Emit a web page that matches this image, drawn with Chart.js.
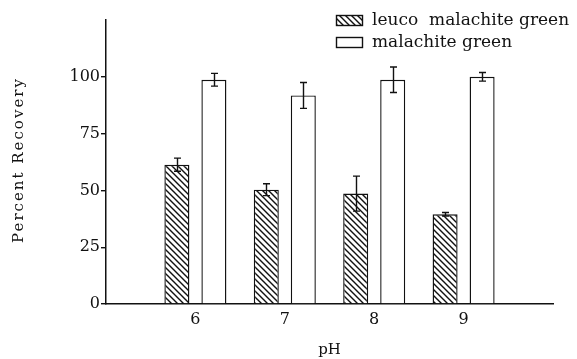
<!DOCTYPE html>
<html>
<head>
<meta charset="utf-8">
<script src="https://cdn.jsdelivr.net/npm/chart.js@4/dist/chart.umd.min.js"></script>
<style>
  html, body { margin: 0; padding: 0; background: #fff; }
  canvas { display: block; }
</style>
</head>
<body>
<canvas id="c" width="577" height="359"></canvas>
<script>
// Recovery of leuco malachite green and malachite green at different pH
const pHValues = [6, 7, 8, 9];
const leucoRecovery = [61.3, 50.3, 48.6, 39.5];
const leucoError = [2.9, 2.6, 7.7, 0.8];
const mgRecovery = [98.7, 91.8, 98.7, 100.0];
const mgError = [2.8, 5.7, 5.6, 1.9];
const yTickValues = [0, 25, 50, 75, 100];
const seriesLabels = ['leuco  malachite green', 'malachite green'];

const INK = '#111';
const FONT = '"DejaVu Serif", "Liberation Serif", serif';

// Diagonal hatch fill ("\\\\") for the leuco bars
function makeHatch() {
  const p = document.createElement('canvas');
  p.width = 6; p.height = 6;
  const g = p.getContext('2d');
  g.fillStyle = '#fff';
  g.fillRect(0, 0, 6, 6);
  g.strokeStyle = INK;
  g.lineWidth = 1.4;
  g.beginPath();
  g.moveTo(-1, -1); g.lineTo(7, 7);
  g.moveTo(-4, 2); g.lineTo(1, 7);
  g.moveTo(5, -1); g.lineTo(8, 2);
  g.stroke();
  return document.createElement('canvas').getContext('2d').createPattern(p, 'repeat');
}
const hatch = makeHatch();

const toPoints = (vals) => vals.map((v, i) => ({ x: pHValues[i], y: v }));

// Error bars with small caps
const errorBars = {
  id: 'errorBars',
  afterDatasetsDraw(chart) {
    const ctx = chart.ctx;
    const y = chart.scales.y;
    ctx.save();
    ctx.strokeStyle = INK;
    ctx.lineWidth = 1.4;
    chart.data.datasets.forEach((ds, di) => {
      const meta = chart.getDatasetMeta(di);
      meta.data.forEach((bar, i) => {
        const v = ds.data[i].y, e = ds.errors[i];
        const yt = y.getPixelForValue(v + e);
        const yb = y.getPixelForValue(v - e);
        const cx = Math.round(bar.x) + 0.5;
        ctx.beginPath();
        ctx.moveTo(cx, yt); ctx.lineTo(cx, yb);
        ctx.moveTo(cx - 3.5, yt); ctx.lineTo(cx + 3.5, yt);
        ctx.moveTo(cx - 3.5, yb); ctx.lineTo(cx + 3.5, yb);
        ctx.stroke();
      });
    });
    ctx.restore();
  }
};

// Legend in the upper right corner plus the two axis titles
const decorations = {
  id: 'decorations',
  afterDraw(chart) {
    const ctx = chart.ctx;
    const area = chart.chartArea;
    ctx.save();
    ctx.fillStyle = INK;
    ctx.textBaseline = 'middle';

    // legend
    const rows = [20, 42];
    chart.data.datasets.forEach((ds, i) => {
      const yc = rows[i];
      ctx.fillStyle = ds.backgroundColor;
      ctx.fillRect(336, yc - 5, 26, 10);
      ctx.strokeStyle = INK;
      ctx.lineWidth = 1.4;
      ctx.strokeRect(336.5, yc - 5 + 0.5, 26, 10);
      ctx.fillStyle = INK;
      ctx.font = '17px ' + FONT;
      ctx.textAlign = 'left';
      ctx.fillText(ds.label, 372, yc + 1);
    });

    // x title
    ctx.font = '15px ' + FONT;
    ctx.textAlign = 'center';
    ctx.fillText('pH', (area.left + area.right) / 2, 350);

    // y title
    ctx.translate(19, 160);
    ctx.rotate(-Math.PI / 2);
    ctx.letterSpacing = '2px';
    ctx.fillText('Percent Recovery', 0, 0);
    ctx.restore();
  }
};

new Chart(document.getElementById('c'), {
  type: 'bar',
  data: {
    datasets: [
      {
        label: seriesLabels[0],
        data: toPoints(leucoRecovery),
        errors: leucoError,
        backgroundColor: hatch,
        borderColor: INK,
        borderWidth: 1.4
      },
      {
        label: seriesLabels[1],
        data: toPoints(mgRecovery),
        errors: mgError,
        backgroundColor: '#fff',
        borderColor: INK,
        borderWidth: 1.4
      }
    ]
  },
  options: {
    responsive: false,
    animation: false,
    events: [],
    layout: { padding: { left: 0, right: 24, top: 20, bottom: 0 } },
    categoryPercentage: 0.828,
    barPercentage: 0.676,
    plugins: {
      legend: { display: false },
      tooltip: { enabled: false }
    },
    scales: {
      x: {
        type: 'linear',
        offset: false,
        min: 5,
        max: 10,
        afterBuildTicks(scale) {
          scale.ticks = pHValues.map(v => ({ value: v }));
        },
        afterFit(scale) { scale.height = 55; },
        grid: { display: false, drawTicks: false, offset: false },
        border: { display: true, color: INK, width: 1.5 },
        ticks: {
          color: INK,
          padding: 6,
          font: { family: FONT, size: 16 },
          callback: (v) => String(v)
        }
      },
      y: {
        min: 0,
        max: 125,
        afterBuildTicks(scale) {
          scale.ticks = yTickValues.map(v => ({ value: v }));
        },
        afterFit(scale) { scale.width = 106; },
        grid: {
          drawOnChartArea: false,
          drawTicks: true,
          tickLength: 5,
          color: INK,
          lineWidth: 1.4
        },
        border: { display: true, color: INK, width: 1.5 },
        ticks: {
          color: INK,
          padding: 1,
          font: { family: FONT, size: 16 },
          callback: (v) => String(v)
        }
      }
    }
  },
  plugins: [errorBars, decorations]
});
</script>
</body>
</html>
